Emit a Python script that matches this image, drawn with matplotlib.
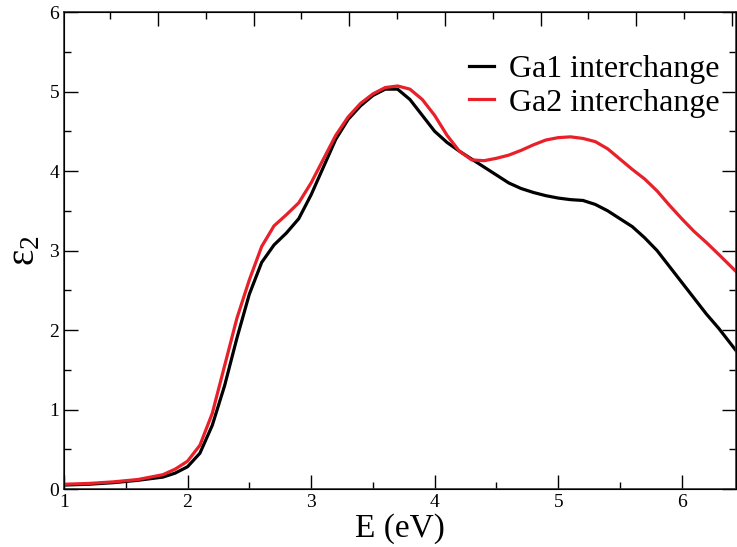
import matplotlib
matplotlib.use("Agg")
import matplotlib.pyplot as plt
from matplotlib.ticker import MultipleLocator

# photon energy (eV)
energy = [1.0, 1.2, 1.4, 1.6, 1.8, 1.9, 2.0, 2.1, 2.2, 2.3, 2.4, 2.5, 2.6, 2.7, 2.8,
          2.9, 3.0, 3.1, 3.2, 3.3, 3.4, 3.5, 3.6, 3.7, 3.8, 3.9, 4.0, 4.1, 4.2, 4.3,
          4.4, 4.5, 4.6, 4.7, 4.8, 4.9, 5.0, 5.1, 5.2, 5.3, 5.4, 5.5, 5.6, 5.7, 5.8,
          5.9, 6.0, 6.1, 6.2, 6.3, 6.45]

# imaginary part of dielectric function
ga1 = [0.05, 0.06, 0.08, 0.11, 0.15, 0.2, 0.28, 0.45, 0.8, 1.3, 1.9, 2.45, 2.85,
       3.07, 3.22, 3.4, 3.7, 4.05, 4.4, 4.65, 4.82, 4.95, 5.03, 5.03, 4.9, 4.7,
       4.5, 4.36, 4.25, 4.15, 4.05, 3.95, 3.85, 3.78, 3.73, 3.69, 3.66, 3.64, 3.63,
       3.58, 3.5, 3.4, 3.3, 3.16, 3.0, 2.8, 2.6, 2.4, 2.2, 2.02, 1.72]
ga2 = [0.06, 0.07, 0.09, 0.12, 0.18, 0.25, 0.35, 0.55, 0.95, 1.55, 2.15, 2.63, 3.05,
       3.31, 3.45, 3.6, 3.85, 4.15, 4.45, 4.68, 4.85, 4.97, 5.05, 5.07, 5.03, 4.9,
       4.7, 4.45, 4.25, 4.14, 4.13, 4.16, 4.2, 4.26, 4.33, 4.39, 4.42, 4.43, 4.41,
       4.37, 4.28, 4.15, 4.02, 3.9, 3.75, 3.57, 3.4, 3.24, 3.1, 2.95, 2.72]

plt.rcParams['font.family'] = ['Liberation Serif', 'DejaVu Serif']
plt.rcParams['mathtext.fontset'] = 'custom'
plt.rcParams['mathtext.rm'] = 'Liberation Serif'
plt.rcParams['mathtext.it'] = 'Liberation Serif:italic'

fig = plt.figure(figsize=(7.37, 5.47), dpi=100)
ax = fig.add_axes([0.0868, 0.106, 0.912, 0.872])

ax.plot(energy, ga1, color='black', lw=2.3, label='Ga1 interchange')
ax.plot(energy, ga2, color='#e8202a', lw=2.3, label='Ga2 interchange')

xmin, xmax = 1, 6.44
ax.set_xlim(xmin, xmax)
ax.set_ylim(0, 6)
ax.xaxis.set_major_locator(MultipleLocator(1))
ax.xaxis.set_minor_locator(MultipleLocator(0.5))
ax.yaxis.set_major_locator(MultipleLocator(1))
ax.yaxis.set_minor_locator(MultipleLocator(0.5))
ax.tick_params(which='both', direction='in', top=False, right=True, labelsize=14, width=1.0)
ax.tick_params(which='major', length=10)
ax.tick_params(which='minor', length=5)
for s in ax.spines.values():
    s.set_linewidth(1.2)
    s.set_color('#333333')

# top axis has its own (unlabelled) tick scale
x0, step = 1.761, 0.7742
top = ax.twiny()
top.set_xlim((xmin - x0) / step, (xmax - x0) / step)
top.xaxis.set_major_locator(MultipleLocator(1))
top.xaxis.set_minor_locator(MultipleLocator(0.5))
top.tick_params(which='both', direction='in', labeltop=False, width=1.0)
top.tick_params(which='major', length=10)
top.tick_params(which='minor', length=5)

ax.set_xlabel('E (eV)', fontsize=24, labelpad=2)
ax.set_ylabel(r'$\mathrm{ε}_2$', fontsize=28, labelpad=4)

ax.legend(loc='upper right', bbox_to_anchor=(0.975, 0.91), frameon=False, fontsize=23,
          handlelength=0.8, handletextpad=0.45, labelspacing=0.12,
          borderpad=0, borderaxespad=0)

plt.savefig('out.png', dpi=100)
